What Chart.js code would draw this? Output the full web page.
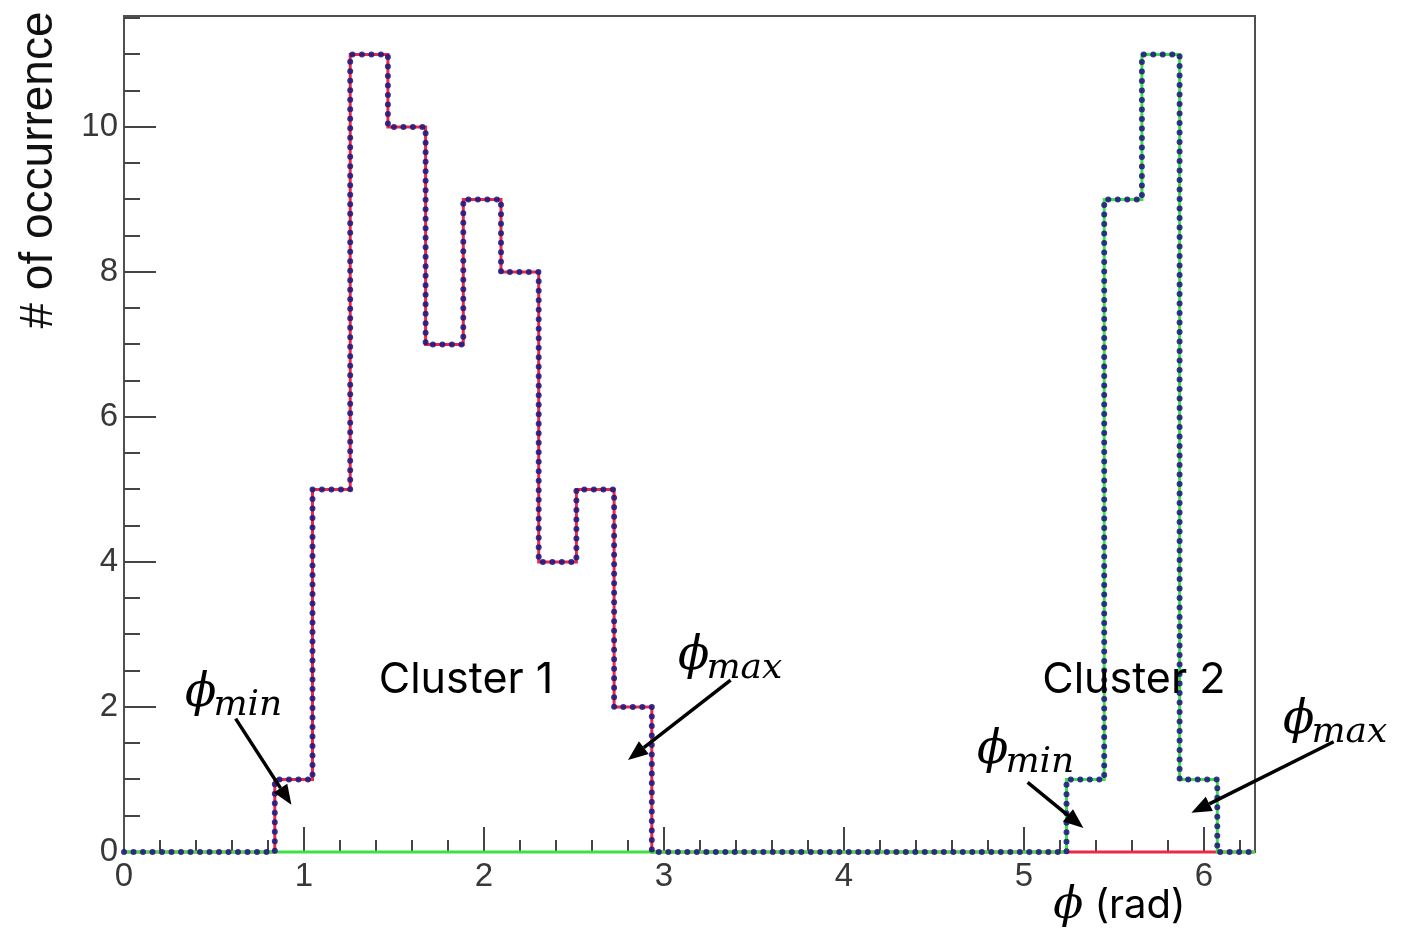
<!DOCTYPE html>
<html><head><meta charset="utf-8">
<script src="https://cdn.jsdelivr.net/npm/chart.js@4.4.1/dist/chart.umd.min.js"></script>
<style>html,body{margin:0;padding:0;background:#fff;overflow:hidden}#wrap{width:1403px;height:930px}</style>
</head><body><div id="wrap"><canvas id="c" width="1403" height="930"></canvas></div>
<script>
// ---- data (30 bins over 0..2π) ----
const nBins = 30;
const phiRange = [0, 2 * Math.PI];
const cluster1Counts = [0,0,0,0,1,5,11,10,7,9,8,4,5,2,0,0,0,0,0,0,0,0,0,0,0,0,0,0,0,0];
const cluster2Counts = [0,0,0,0,0,0,0,0,0,0,0,0,0,0,0,0,0,0,0,0,0,0,0,0,0,1,9,11,1,0];
const totalCounts    = [0,0,0,0,1,5,11,10,7,9,8,4,5,2,0,0,0,0,0,0,0,0,0,0,0,1,9,11,1,0];
const xTickLabels = [0,1,2,3,4,5,6];
const yTickLabels = [0,2,4,6,8,10];
const yRange = [0, 11.53];
const yTitle = '# of occurrence';
const xTitleSymbol = 'ϕ';
const xTitleUnit = ' (rad)';
const clusterNames = ['Cluster 1', 'Cluster 2'];
const phiSubs = ['min', 'max', 'min', 'max'];

// annotation anchors in data units
const clusterPos = [[1.90, 2.37], [5.61, 2.37]];
const phiPos = [[0.339, 2.01], [3.078, 2.53], [4.739, 1.23], [6.439, 1.64]];
const arrowPos = [[0.62, 1.84, 0.93, 0.65], [3.37, 2.37, 2.80, 1.27], [5.02, 0.96, 5.33, 0.33], [6.72, 1.52, 5.93, 0.54]];
const xTitlePos = [5.53, -0.91];

function histPoints(counts) {
  const w = (phiRange[1] - phiRange[0]) / nBins;
  const pts = counts.map((c, i) => ({ x: phiRange[0] + i * w, y: c }));
  pts.push({ x: phiRange[1], y: counts[counts.length - 1] });
  return pts;
}
const isInt = v => Math.abs(v - Math.round(v)) < 1e-6;

const PL = { left: 124, right: 1255, top: 16, bottom: 852 };

const decor = {
  id: 'decor',
  beforeDatasetsDraw(chart) {
    const ctx = chart.ctx, a = chart.chartArea;
    const xs = chart.scales.x, ys = chart.scales.y;
    ctx.save();
    ctx.strokeStyle = '#505050'; ctx.lineWidth = 2;
    ctx.strokeRect(a.left, a.top, a.right - a.left, a.bottom - a.top);
    ctx.strokeStyle = '#444'; ctx.lineWidth = 2;
    ctx.beginPath();
    xs.ticks.forEach(t => {
      const px = Math.round(xs.getPixelForValue(t.value));
      if (px <= a.left + 1 || px >= a.right - 1) return;
      const len = isInt(t.value) ? 25 : 12;
      ctx.moveTo(px, a.bottom); ctx.lineTo(px, a.bottom - len);
    });
    ys.ticks.forEach(t => {
      const py = Math.round(ys.getPixelForValue(t.value));
      if (py <= a.top + 1 || py >= a.bottom - 1) return;
      const len = (isInt(t.value) && Math.round(t.value) % 2 === 0) ? 32 : 16;
      ctx.moveTo(a.left, py); ctx.lineTo(a.left + len, py);
    });
    ctx.stroke();
    ctx.restore();
  },
  afterDraw(chart) {
    const ctx = chart.ctx;
    const xs = chart.scales.x, ys = chart.scales.y;
    const X = v => xs.getPixelForValue(v), Y = v => ys.getPixelForValue(v);
    ctx.save();
    ctx.fillStyle = '#000';
    // y title
    ctx.save();
    ctx.translate(52, 170); ctx.rotate(-Math.PI / 2);
    ctx.font = '46px "Liberation Sans", Arial, sans-serif';
    ctx.textAlign = 'center'; ctx.textBaseline = 'alphabetic';
    ctx.fillStyle = '#111';
    ctx.fillText(yTitle, 0, 0);
    ctx.restore();
    // cluster names
    ctx.font = '43px "Inter", "Liberation Sans", sans-serif';
    ctx.textAlign = 'center'; ctx.textBaseline = 'middle';
    clusterNames.forEach((n, i) => ctx.fillText(n, X(clusterPos[i][0]), Y(clusterPos[i][1])));
    // phi labels
    ctx.textAlign = 'left'; ctx.textBaseline = 'alphabetic';
    phiSubs.forEach((s, i) => {
      const px = X(phiPos[i][0]), py = Y(phiPos[i][1]);
      ctx.font = 'italic 46px "DejaVu Serif", serif';
      ctx.fillText('ϕ', px, py);
      const w = ctx.measureText('ϕ').width;
      ctx.font = 'italic 36px "DejaVu Serif", serif';
      ctx.fillText(s, px + w - 3, py + 9);
    });
    // arrows
    arrowPos.forEach(p => {
      const x0 = X(p[0]), y0 = Y(p[1]), x1 = X(p[2]), y1 = Y(p[3]);
      const ang = Math.atan2(y1 - y0, x1 - x0);
      const hl = 20, hw = 8;
      const bx = x1 - hl * Math.cos(ang), by = y1 - hl * Math.sin(ang);
      ctx.strokeStyle = '#000'; ctx.lineWidth = 3.5; ctx.lineCap = 'butt';
      ctx.beginPath(); ctx.moveTo(x0, y0); ctx.lineTo(bx, by); ctx.stroke();
      ctx.beginPath();
      ctx.moveTo(x1, y1);
      ctx.lineTo(bx + hw * Math.sin(ang), by - hw * Math.cos(ang));
      ctx.lineTo(bx - hw * Math.sin(ang), by + hw * Math.cos(ang));
      ctx.closePath(); ctx.fill();
    });
    // x title
    const tx = X(xTitlePos[0]), ty = Y(xTitlePos[1]);
    const f1 = 'italic 44px "DejaVu Serif", serif', f2 = '40px "Inter", "Liberation Sans", sans-serif';
    ctx.font = f1; const w1 = ctx.measureText(xTitleSymbol).width;
    ctx.font = f2; const w2 = ctx.measureText(xTitleUnit).width;
    const sx = tx - (w1 + w2) / 2;
    ctx.font = f1; ctx.fillText(xTitleSymbol, sx, ty);
    ctx.font = f2; ctx.fillText(xTitleUnit, sx + w1, ty);
    ctx.restore();
  }
};

new Chart(document.getElementById('c'), {
  type: 'line',
  data: {
    datasets: [
      { label: 'total', data: histPoints(totalCounts), stepped: 'before', borderColor: 'rgba(30,25,130,0.88)',
        borderWidth: 6, borderDash: [0, 9.5], borderCapStyle: 'round', pointRadius: 0, fill: false, clip: 8 },
      { label: 'cluster 2', data: histPoints(cluster2Counts), stepped: 'before', borderColor: 'rgb(60,225,70)',
        borderWidth: 3, pointRadius: 0, fill: false, clip: 8 },
      { label: 'cluster 1', data: histPoints(cluster1Counts), stepped: 'before', borderColor: 'rgb(235,40,70)',
        borderWidth: 3, pointRadius: 0, fill: false, clip: 8 }
    ]
  },
  options: {
    responsive: false, animation: false, devicePixelRatio: 1,
    layout: { padding: { left: 0, top: PL.top, right: 1403 - PL.right, bottom: 0 } },
    plugins: { legend: { display: false }, tooltip: { enabled: false } },
    scales: {
      x: {
        type: 'linear', min: phiRange[0], max: phiRange[1],
        afterFit: s => { s.height = 930 - PL.bottom; s.paddingLeft = 0; s.paddingRight = 0; },
        ticks: { stepSize: 0.2, includeBounds: false, autoSkip: false, maxRotation: 0, padding: 5,
          color: '#383838', font: { family: '"Liberation Sans", Arial, sans-serif', size: 33 },
          callback: v => (isInt(v) && xTickLabels.includes(Math.round(v))) ? String(Math.round(v)) : '' },
        grid: { drawOnChartArea: false, drawTicks: false },
        border: { display: false }
      },
      y: {
        min: yRange[0], max: yRange[1],
        afterFit: s => { s.width = PL.left; s.paddingTop = 0; s.paddingBottom = 0; },
        ticks: { stepSize: 0.5, includeBounds: false, autoSkip: false, padding: 6,
          color: '#383838', font: { family: '"Liberation Sans", Arial, sans-serif', size: 33 },
          callback: v => (isInt(v) && yTickLabels.includes(Math.round(v))) ? String(Math.round(v)) : '' },
        grid: { drawOnChartArea: false, drawTicks: false },
        border: { display: false }
      }
    }
  },
  plugins: [decor]
});
</script>
</body></html>
